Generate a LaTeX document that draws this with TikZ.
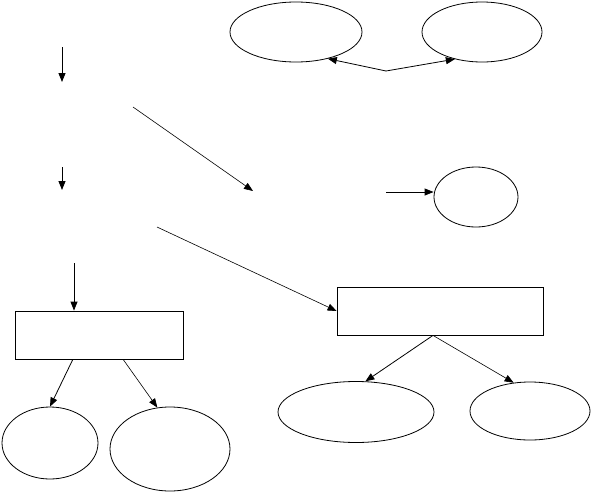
\documentclass[tikz,border=0pt]{standalone}
\usetikzlibrary{arrows.meta,shapes.geometric,calc}
\begin{document}
\begin{tikzpicture}[x=1pt,y=-1pt,
  every path/.style={line width=0.8pt},
  oval/.style={draw,ellipse,inner sep=0pt},
  box/.style={draw,rectangle,inner sep=0pt,minimum width=#1,minimum height=48pt},
  arr/.style={-{Triangle[length=9pt,width=7pt]}}]
\useasboundingbox (0,0) rectangle (592,493);
% ellipses
\node[oval,minimum width=132pt,minimum height=60pt] (e1) at (296,32) {};
\node[oval,minimum width=120pt,minimum height=60pt] (e2) at (482,32) {};
\node[oval,minimum width=84pt,minimum height=60pt] (e3) at (476,197) {};
\node[oval,minimum width=96pt,minimum height=72pt] (e4) at (50,443) {};
\node[oval,minimum width=120pt,minimum height=84pt] (e5) at (170,449) {};
\node[oval,minimum width=156pt,minimum height=61pt] (e6) at (356,412) {};
\node[oval,minimum width=120pt,minimum height=58pt] (e7) at (530,411) {};
% boxes
\node[box=168pt] (r1) at (99,335) {};
\node[box=206pt] (r2) at (440,311) {};
% free ends
\coordinate (t0) at (386,71);
\coordinate (a1s) at (62,47);
\coordinate (a1e) at (62,82);
\coordinate (a2s) at (62,167);
\coordinate (a2e) at (62,190);
\coordinate (d1s) at (133,107);
\coordinate (d1e) at (253,191);
\coordinate (d2s) at (157,227);
\coordinate (h3s) at (386,192);
\coordinate (a3s) at (74,263);
% connectors
\draw[arr] (t0) -- (e1.-40);
\draw[arr] (t0) -- (e2.-135);
\draw[arr] (a1s) -- (a1e);
\draw[arr] (a2s) -- (a2e);
\draw[arr,line width=0.6pt] (d1s) -- (d1e);
\draw[arr,line width=0.6pt] (d2s) -- (r2.west);
\draw[arr] (h3s) -- (h3s -| e3.west);
\draw[arr] (a3s) -- (a3s |- r1.north);
\draw[arr] ($(r1.south west)!0.345!(r1.south east)$) -- (e4.north);
\draw[arr,line width=0.6pt] ($(r1.south west)!0.643!(r1.south east)$) -- (e5.107);
\draw[arr] ($(r2.south)+(-7,0)$) -- (e6.73);
\draw[arr,line width=0.6pt] ($(r2.south)+(-7,0)$) -- (e7.120);
\end{tikzpicture}
\end{document}
